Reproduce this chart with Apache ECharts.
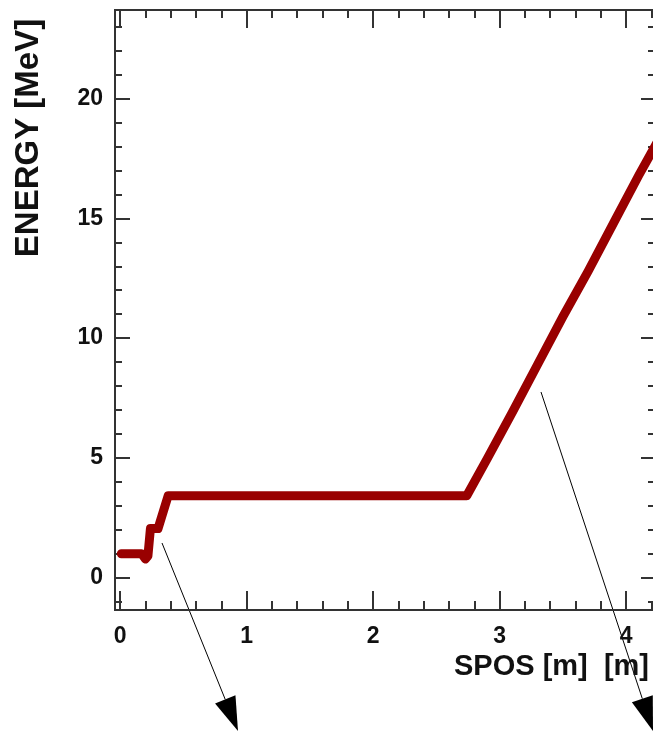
<!DOCTYPE html>
<html>
<head>
<meta charset="utf-8">
<script src="https://cdn.jsdelivr.net/npm/echarts@6/dist/echarts.min.js"></script>
<style>
html,body{margin:0;padding:0;background:#fff;}
#c{width:653px;height:731px;}
</style>
</head>
<body>
<div id="c"></div>
<script>
// ---- data ----
const spos   = [0.01, 0.17, 0.20, 0.22, 0.24, 0.30, 0.38, 2.74, 2.90, 3.10, 3.30, 3.50, 3.70, 3.90, 4.10, 4.30];
const energy = [1.00, 1.00, 0.78, 0.90, 2.05, 2.05, 3.42, 3.42, 4.95, 6.90, 8.90, 10.9, 12.8, 14.8, 16.8, 18.7];
const xMajorTicks = [0, 1, 2, 3, 4];
const xMinorTicks = [0.2, 0.4, 0.6, 0.8, 1.2, 1.4, 1.6, 1.8, 2.2, 2.4, 2.6, 2.8, 3.2, 3.4, 3.6, 3.8, 4.2];
const yMajorTicks = [0, 5, 10, 15, 20];
const yMinorTicks = [-1, 1, 2, 3, 4, 6, 7, 8, 9, 11, 12, 13, 14, 16, 17, 18, 19, 21, 22, 23];
const xTitle = 'SPOS [m]  [m]';
const yTitle = 'ENERGY [MeV]';

const AX = '#333';
const FONT = '"Liberation Sans",Arial,Helvetica,sans-serif';
const numFont = {fontFamily: FONT, fontWeight: 'bold', fontSize: 23, color: '#111'};

function xAx(pos, tickVals, len, labels, extra) {
  return Object.assign({
    type: 'value', position: pos, min: -0.04, max: 4.22,
    axisLine: {show: true, onZero: false, lineStyle: {color: AX, width: 2}},
    axisTick: {show: true, inside: true, length: len, customValues: tickVals, lineStyle: {color: AX, width: 2}},
    axisLabel: labels ? Object.assign({show: true, customValues: xMajorTicks, margin: 15, formatter: v => String(v)}, numFont) : {show: false},
    splitLine: {show: false}
  }, extra || {});
}
function yAx(pos, tickVals, len, labels, extra) {
  return Object.assign({
    type: 'value', position: pos, min: -1.35, max: 23.7,
    axisLine: {show: true, onZero: false, lineStyle: {color: AX, width: 2}},
    axisTick: {show: true, inside: true, length: len, customValues: tickVals, lineStyle: {color: AX, width: 2}},
    axisLabel: labels ? Object.assign({show: true, customValues: yMajorTicks, margin: 12, formatter: v => String(v)}, numFont) : {show: false},
    splitLine: {show: false}
  }, extra || {});
}

const chart = echarts.init(document.getElementById('c'), null, {renderer: 'canvas'});

function arrow(x1, y1, x2, y2) {
  const dx = x2 - x1, dy = y2 - y1, L = Math.hypot(dx, dy);
  const ux = dx / L, uy = dy / L, hl = 34, hw = 11;
  const bx = x2 - ux * hl, by = y2 - uy * hl;
  return [
    {type: 'line', shape: {x1: x1, y1: y1, x2: bx, y2: by}, style: {stroke: '#000', lineWidth: 1}},
    {type: 'polygon', shape: {points: [[x2, y2], [bx - uy * hw, by + ux * hw], [bx + uy * hw, by - ux * hw]]}, style: {fill: '#000'}}
  ];
}

const option = {
  backgroundColor: '#fff',
  animation: false,
  grid: {left: 115, top: 10, width: 539, height: 600, containLabel: false, outerBoundsMode: 'none'},
  xAxis: [
    xAx('bottom', xMajorTicks, 19, true, {
      name: xTitle, nameLocation: 'middle', nameGap: 42,
      nameTextStyle: {fontFamily: FONT, fontWeight: 'bold', fontSize: 29, color: '#111', padding: [0, 0, 0, 334]}
    }),
    xAx('bottom', xMinorTicks, 9, false),
    xAx('top', xMajorTicks, 18, false),
    xAx('top', xMinorTicks, 8, false)
  ],
  yAxis: [
    yAx('left', yMajorTicks, 15, true, {
      name: yTitle, nameLocation: 'middle', nameGap: 70, nameRotate: 90,
      nameTextStyle: {fontFamily: FONT, fontWeight: 'bold', fontSize: 33, color: '#111', padding: [0, 0, 0, 344]}
    }),
    yAx('left', yMinorTicks, 7, false),
    yAx('right', yMajorTicks, 13, false),
    yAx('right', yMinorTicks, 6, false)
  ],
  series: [{
    type: 'line',
    xAxisIndex: 0, yAxisIndex: 0,
    data: spos.map((x, i) => [x, energy[i]]),
    showSymbol: false,
    clip: true,
    lineStyle: {color: '#990000', width: 9, cap: 'round', join: 'round'},
    z: 3
  }],
  graphic: [].concat(arrow(162, 543, 238, 731), arrow(541, 392, 653, 731))
};
chart.setOption(option);
</script>
</body>
</html>
